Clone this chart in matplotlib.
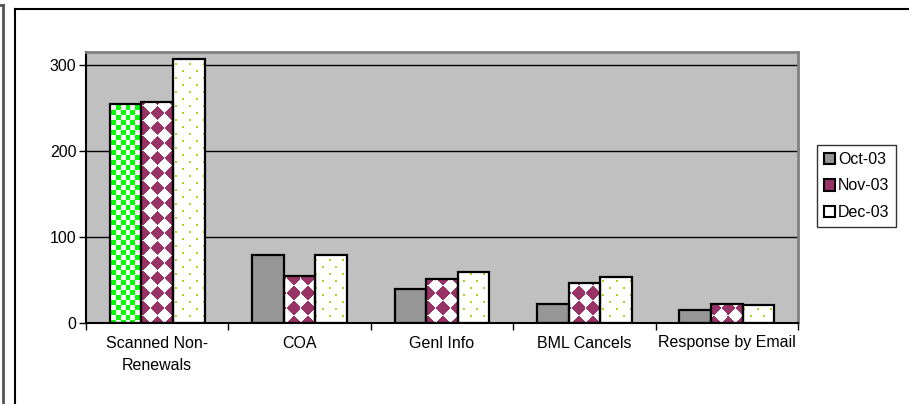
import numpy as np
import matplotlib
matplotlib.use('Agg')
import matplotlib.pyplot as plt
from matplotlib.lines import Line2D
from matplotlib.patches import Patch

plt.rcParams['font.family'] = ['Liberation Sans', 'DejaVu Sans']
plt.rcParams['font.size'] = 11.5

categories = ['Scanned Non-\nRenewals', 'COA', 'Genl Info', 'BML Cancels',
              'Response by Email']
months = ['Oct-03', 'Nov-03', 'Dec-03']
oct_vals = [254, 79, 39, 22, 15]
nov_vals = [257, 55, 51, 46, 22]
dec_vals = [307, 79, 59, 53, 21]

GRAY = np.array([150, 150, 150]) / 255
MAROON = np.array([153, 51, 102]) / 255
GREEN = np.array([0, 255, 0]) / 255
DOT = np.array([170, 210, 40]) / 255
WHITE = np.ones(3)

W, H = 909, 404


# fill patterns, evaluated on screen pixel coordinates
def solid_gray(sx, sy):
    img = np.empty(sx.shape + (3,))
    img[:] = GRAY
    return img


def checker(sx, sy):
    on = ((sx // 5 + sy // 5) % 2) == 0
    return np.where(on[..., None], GREEN, WHITE)


def diamonds(sx, sy):
    p = 15.0
    cx = (sx % p) - p / 2
    cy = (sy % p) - p / 2
    on = (np.abs(cx) + np.abs(cy)) < p * 0.5
    return np.where(on[..., None], MAROON, WHITE)


def dots(sx, sy):
    row = sy // 7
    on = (sy % 7 < 2) & ((sx + (row % 2) * 7) % 14 < 2)
    return np.where(on[..., None], DOT, WHITE)


fig = plt.figure(figsize=(W / 100, H / 100), dpi=100)
ax = fig.add_axes([86 / W, 81 / H, 712 / W, 271 / H])
ax.set_facecolor('#c0c0c0')

n = len(categories)
x = np.arange(n) + 0.5
width = 0.222
series = [
    (oct_vals, -width, [checker] + [solid_gray] * (n - 1)),
    (nov_vals, 0.0, [diamonds] * n),
    (dec_vals, width, [dots] * n),
]

ax.set_xlim(0, n)
ax.set_ylim(0, 315)

for vals, off, fills in series:
    bars = ax.bar(x + off, vals, width, facecolor='none', edgecolor='black',
                  linewidth=1.6, zorder=3)
    for bar, fill in zip(bars, fills):
        x0, y0 = bar.get_x(), bar.get_y()
        x1, y1 = x0 + bar.get_width(), y0 + bar.get_height()
        (px0, py0), (px1, py1) = ax.transData.transform([(x0, y0), (x1, y1)])
        cols = np.arange(int(np.floor(px0)), int(np.ceil(px1)))
        rows = np.arange(int(np.floor(H - py1)), int(np.ceil(H - py0)))
        sx, sy = np.meshgrid(cols, rows)
        img = fill(sx, sy)
        ax.imshow(img, extent=(x0, x1, y0, y1), aspect='auto',
                  interpolation='nearest', zorder=2)

ax.set_xlim(0, n)
ax.set_ylim(0, 315)

ax.set_yticks([0, 100, 200, 300])
ax.yaxis.grid(True, color='black', linewidth=1)
ax.set_axisbelow(True)
ax.tick_params(axis='y', length=5, width=1, direction='out', pad=2)

ax.set_xticks(np.arange(n + 1))
ax.set_xticklabels([])
ax.set_xticks(x, minor=True)
ax.set_xticklabels(categories, minor=True)
ax.tick_params(axis='x', which='major', length=5, width=1, direction='out')
ax.tick_params(axis='x', which='minor', length=0, pad=9)
for lbl in ax.get_xticklabels(minor=True):
    lbl.set_linespacing(1.6)

for side in ['top', 'right']:
    ax.spines[side].set_color('#808080')
    ax.spines[side].set_linewidth(2)
for side in ['left', 'bottom']:
    ax.spines[side].set_color('black')
    ax.spines[side].set_linewidth(1.5)

handles = [
    Patch(facecolor=GRAY, edgecolor='black', linewidth=1.5),
    Patch(facecolor=MAROON, edgecolor='black', linewidth=1.5),
    Patch(facecolor='white', edgecolor='black', linewidth=1.5),
]
leg = fig.legend(handles, months, loc='center left',
                 bbox_to_anchor=(817 / W, 1 - 186 / H), frameon=True,
                 fancybox=False, shadow=False, handlelength=0.7,
                 handleheight=0.7, handletextpad=0.15, labelspacing=0.7,
                 borderpad=0.45, borderaxespad=0, fontsize=11.5)
leg.get_frame().set_edgecolor('black')
leg.get_frame().set_linewidth(1)

# chart area border and the neighbouring box edge
fig.add_artist(Line2D([15 / W, 1], [1 - 9 / H, 1 - 9 / H], color='black',
                      linewidth=1.5))
fig.add_artist(Line2D([15 / W, 15 / W], [0, 1 - 9 / H], color='black',
                      linewidth=1.5))
fig.add_artist(Line2D([3 / W, 3 / W], [0, 1 - 5 / H], color='#555555',
                      linewidth=2))
fig.add_artist(Line2D([0, 3 / W], [1 - 5 / H, 1 - 5 / H], color='#555555',
                      linewidth=2))

fig.savefig('out.png', dpi=100)
